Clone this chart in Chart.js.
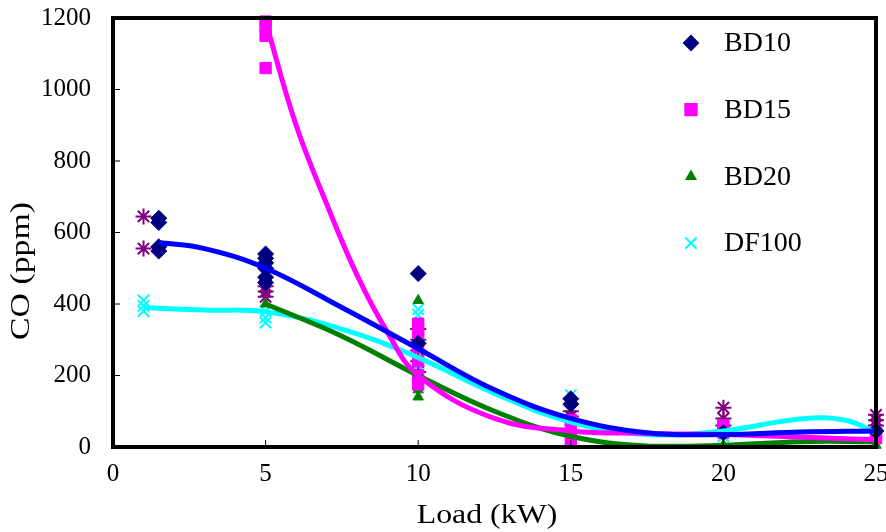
<!DOCTYPE html>
<html>
<head>
<meta charset="utf-8">
<script src="https://cdn.jsdelivr.net/npm/chart.js@4/dist/chart.umd.min.js"></script>
<style>
  html, body { margin: 0; background: #fff; }
  #wrap { width: 886px; height: 532px; }
</style>
</head>
<body>
<div id="wrap"><canvas id="myChart"></canvas></div>
<script>
// measured points
const bd10Load = [1.5, 1.5, 1.5, 1.5, 5, 5, 5, 5, 5, 5, 10, 10, 15, 15, 20, 25];
const bd10CO = [640, 628, 560, 548, 540, 528, 515, 500, 475, 460, 485, 290, 135, 120, 40, 45];

const bd15Load = [5, 5, 5, 5, 10, 10, 10, 10, 10, 10, 15, 15, 15, 20, 20, 25, 25];
const bd15CO = [1190, 1175, 1150, 1060, 345, 320, 280, 240, 200, 175, 75, 50, 20, 60, 40, 40, 25];

const bd20Load = [5, 10, 10, 10, 10, 15, 15, 20, 25];
const bd20CO = [400, 410, 190, 160, 140, 40, 20, 5, 5];

const df100Load = [1, 1, 1, 5, 5, 5, 10, 10, 10, 10, 15, 20, 25];
const df100CO = [410, 395, 380, 380, 362, 348, 385, 370, 230, 200, 145, 30, 25];

// asterisk series (no legend entry)
const otherLoad = [1, 1, 5, 5, 5, 10, 10, 10, 10, 10, 15, 15, 20, 20, 20, 25, 25, 25];
const otherCO = [645, 555, 450, 435, 420, 330, 300, 270, 240, 210, 100, 85, 110, 80, 60, 90, 75, 60];

// trend lines
const bd10TrendLoad = [1.5, 3, 5, 7.5, 10, 12.5, 15, 17.5, 20, 22.5, 25];
const bd10Trend = [572, 555, 500, 390, 275, 160, 80, 40, 35, 42, 45];

const bd15TrendLoad = [5, 6, 7, 8, 9, 10, 12.5, 15, 17.5, 20, 22.5, 25];
const bd15Trend = [1190, 900, 680, 480, 320, 200, 80, 45, 38, 35, 28, 20];

const bd20TrendLoad = [5, 7.5, 10, 12.5, 15, 17.5, 20, 22.5, 25];
const bd20Trend = [400, 310, 200, 100, 30, 3, 5, 15, 15];

const df100TrendLoad = [1, 3, 5, 7.5, 10, 12.5, 15, 17.5, 20, 22.5, 24, 25];
const df100Trend = [390, 383, 378, 330, 250, 150, 70, 35, 45, 78, 75, 40];

const legendNames = ["BD10", "BD15", "BD20", "DF100"];

const serif = "'Liberation Serif', 'Times New Roman', serif";

function pts(xs, ys) {
  return xs.map((x, i) => ({ x: x, y: ys[i] }));
}

function trend(xs, ys, color) {
  return {
    data: pts(xs, ys),
    showLine: true,
    borderColor: color,
    borderWidth: 5,
    pointRadius: 0,
    tension: 0.4,
    fill: false,
  };
}

function marks(xs, ys, style, color, r) {
  return {
    data: pts(xs, ys),
    showLine: false,
    pointStyle: style,
    pointRadius: r,
    backgroundColor: color,
    borderColor: color,
    borderWidth: style === "crossRot" || style === "star" ? 2 : 1,
    clip: false,
  };
}

// the original text looks stretched sideways, so the titles are drawn by hand
function stretchedText(ctx, text, x, y, angle, sx) {
  ctx.save();
  ctx.translate(x, y);
  ctx.rotate(angle);
  ctx.scale(sx, 1);
  ctx.fillText(text, 0, 0);
  ctx.restore();
}

const frame = {
  id: "frame",
  afterDraw(chart) {
    const { ctx, chartArea: a, scales } = chart;
    ctx.save();
    ctx.strokeStyle = "#000";
    ctx.lineWidth = 1;
    // inside tick marks
    scales.y.ticks.forEach((t) => {
      const py = scales.y.getPixelForValue(t.value);
      ctx.beginPath();
      ctx.moveTo(a.left, py);
      ctx.lineTo(a.left + 7, py);
      ctx.stroke();
    });
    scales.x.ticks.forEach((t) => {
      const px = scales.x.getPixelForValue(t.value);
      ctx.beginPath();
      ctx.moveTo(px, a.bottom);
      ctx.lineTo(px, a.bottom - 7);
      ctx.stroke();
    });
    ctx.lineWidth = 4;
    ctx.strokeRect(a.left, a.top, a.right - a.left, a.bottom - a.top);

    ctx.fillStyle = "#000";
    ctx.font = "27px " + serif;
    ctx.textAlign = "center";
    ctx.textBaseline = "middle";
    stretchedText(ctx, "CO (ppm)", 22, 271, -Math.PI / 2, 1.25);
    stretchedText(ctx, "Load (kW)", 487, 516, 0, 1.18);

    // legend inside the plot
    const styles = [
      ["rectRot", "#000080", 7],
      ["rect", "#FF00FF", 8],
      ["triangle", "#008000", 5],
      ["crossRot", "#00FFFF", 8],
    ];
    ctx.font = "28px " + serif;
    ctx.textAlign = "left";
    legendNames.forEach((name, i) => {
      const ly = a.top + 25 + i * 66.7;
      const lx = a.right - 185;
      const s = styles[i];
      ctx.fillStyle = s[1];
      ctx.strokeStyle = s[1];
      ctx.lineWidth = 2;
      Chart.helpers.drawPoint(ctx, { pointStyle: s[0], radius: s[2], rotation: 0, borderWidth: 2 }, lx, ly);
      ctx.fillStyle = "#000";
      ctx.fillText(name, lx + 33, ly + 1);
    });
    ctx.restore();
  },
};

const ctx = document.getElementById("myChart");

const myChart = new Chart(ctx, {
  type: "scatter",
  data: {
    datasets: [
      trend(bd10TrendLoad, bd10Trend, "#0000FF"),
      trend(bd15TrendLoad, bd15Trend, "#FF00FF"),
      trend(bd20TrendLoad, bd20Trend, "#008000"),
      trend(df100TrendLoad, df100Trend, "#00FFFF"),
      marks(bd10Load, bd10CO, "rectRot", "#000080", 8),
      marks(bd15Load, bd15CO, "rect", "#FF00FF", 8),
      marks(bd20Load, bd20CO, "triangle", "#008000", 6),
      marks(df100Load, df100CO, "crossRot", "#00FFFF", 8),
      marks(otherLoad, otherCO, "star", "#800080", 8),
    ],
  },
  options: {
    responsive: true,
    maintainAspectRatio: false,
    animation: false,
    layout: {
      padding: { top: 18, right: 8, left: 0, bottom: 0 },
    },
    plugins: {
      legend: { display: false },
      tooltip: { enabled: false },
    },
    scales: {
      x: {
        type: "linear",
        min: 0,
        max: 25,
        grid: { display: false },
        border: { display: false },
        ticks: {
          stepSize: 5,
          color: "#000",
          padding: 4,
          font: { family: serif, size: 25 },
        },
        afterFit: (scale) => {
          scale.height = 85;
          scale.paddingLeft = 0;
          scale.paddingRight = 0;
        },
      },
      y: {
        min: 0,
        max: 1200,
        grid: { display: false },
        border: { display: false },
        ticks: {
          stepSize: 200,
          color: "#000",
          padding: 14,
          font: { family: serif, size: 25 },
          callback: (v) => String(v),
        },
        afterFit: (scale) => {
          scale.width = 113;
          scale.paddingTop = 0;
          scale.paddingBottom = 0;
        },
      },
    },
  },
  plugins: [frame],
});
</script>
</body>
</html>
